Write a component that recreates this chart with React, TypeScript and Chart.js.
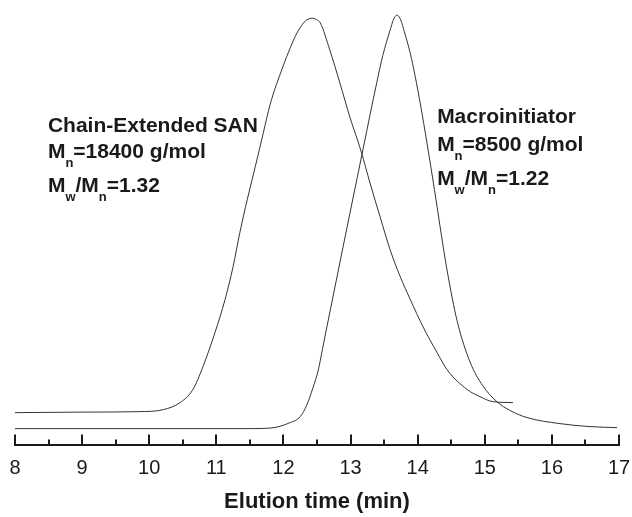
import { useEffect, useRef } from "react";
import { Chart, registerables } from "chart.js";

Chart.register(...registerables);

// Chain-Extended SAN trace (elution time in min, detector signal in a.u.)
const sanTime = [8.0, 8.97, 9.86, 10.21, 10.46, 10.65, 10.8, 10.98, 11.13, 11.25, 11.35, 11.46, 11.58, 11.7, 11.8, 11.99, 12.1, 12.2, 12.31, 12.37, 12.43, 12.49, 12.55, 12.69, 12.84, 12.99, 13.16, 13.29, 13.44, 13.59, 13.74, 13.89, 14.08, 14.29, 14.44, 14.74, 14.93, 15.12, 15.42];
const sanSignal = [7.27, 7.39, 7.5, 7.95, 9.55, 12.5, 17.7, 25.5, 33.0, 40.5, 48.2, 55.7, 63.2, 70.9, 77.3, 85.9, 90.2, 93.6, 96.1, 96.8, 97.0, 96.7, 95.9, 89.8, 82.3, 74.5, 66.6, 59.5, 51.8, 44.3, 38.2, 33.0, 26.8, 20.9, 17.0, 12.5, 10.9, 9.77, 9.55];

// Macroinitiator trace
const macroTime = [8.0, 10.01, 11.5, 11.8, 12.1, 12.25, 12.35, 12.44, 12.52, 12.58, 12.65, 12.71, 12.8, 12.89, 12.99, 13.1, 13.19, 13.29, 13.39, 13.48, 13.59, 13.64, 13.69, 13.75, 13.8, 13.89, 13.96, 14.04, 14.14, 14.25, 14.35, 14.44, 14.59, 14.78, 14.97, 15.18, 15.38, 15.63, 16.12, 16.57, 16.97];
const macroSignal = [3.64, 3.64, 3.64, 3.75, 5.0, 6.36, 9.09, 12.95, 17.0, 21.6, 27.0, 31.5, 38.3, 45.1, 52.6, 60.8, 67.5, 75.0, 82.3, 88.5, 94.3, 96.7, 97.7, 96.5, 94.0, 89.0, 84.0, 77.5, 68.5, 58.0, 48.0, 39.5, 28.0, 18.8, 13.4, 9.77, 7.73, 6.14, 4.77, 4.09, 3.86];

const xTickValues = [8, 9, 10, 11, 12, 13, 14, 15, 16, 17];

const FONT = '"Liberation Sans", Arial, Helvetica, sans-serif';
const INK = "#1a1a1a";

type Seg = { t: string; sub?: boolean };

const sanLabel: Seg[][] = [
  [{ t: "Chain-Extended SAN" }],
  [{ t: "M" }, { t: "n", sub: true }, { t: "=18400 g/mol" }],
  [{ t: "M" }, { t: "w", sub: true }, { t: "/M" }, { t: "n", sub: true }, { t: "=1.32" }],
];
const macroLabel: Seg[][] = [
  [{ t: "Macroinitiator" }],
  [{ t: "M" }, { t: "n", sub: true }, { t: "=8500 g/mol" }],
  [{ t: "M" }, { t: "w", sub: true }, { t: "/M" }, { t: "n", sub: true }, { t: "=1.22" }],
];

const textPlugin = {
  id: "gpcAnnotations",
  afterDraw(chart: any) {
    const { ctx, scales } = chart;
    const xs = scales.x;
    const ys = scales.y;
    // inward ticks on the x axis
    const y0 = chart.chartArea.bottom;
    ctx.save();
    ctx.strokeStyle = INK;
    ctx.lineWidth = 2;
    for (let v = xs.min; v <= xs.max + 1e-9; v += 0.5) {
      const px = Math.round(xs.getPixelForValue(v));
      const major = Math.abs(v - Math.round(v)) < 1e-6;
      ctx.beginPath();
      ctx.moveTo(px, y0);
      ctx.lineTo(px, y0 - (major ? 10 : 5));
      ctx.stroke();
    }
    ctx.restore();

    const drawBlock = (lines: Seg[][], xv: number, yvs: number[]) => {
      ctx.save();
      ctx.fillStyle = INK;
      ctx.textBaseline = "alphabetic";
      ctx.textAlign = "left";
      lines.forEach((line, i) => {
        let x = xs.getPixelForValue(xv);
        const base = ys.getPixelForValue(yvs[i]);
        line.forEach((s) => {
          ctx.font = s.sub ? `bold 13px ${FONT}` : `bold 21px ${FONT}`;
          ctx.fillText(s.t, x, s.sub ? base + 9 : base);
          x += ctx.measureText(s.t).width;
        });
      });
      ctx.restore();
    };
    drawBlock(sanLabel, 8.49, [71.1, 65.2, 57.5]);
    drawBlock(macroLabel, 14.29, [73.2, 66.8, 59.1]);
  },
};

export default function App() {
  const ref = useRef<HTMLCanvasElement | null>(null);
  useEffect(() => {
    if (!ref.current) return;
    const chart = new Chart(ref.current, {
      type: "line",
      data: {
        datasets: [
          {
            label: "Chain-Extended SAN",
            data: sanTime.map((t, i) => ({ x: t, y: sanSignal[i] })),
            borderColor: "#333",
            borderWidth: 1,
            pointRadius: 0,
            cubicInterpolationMode: "monotone",
            fill: false,
          },
          {
            label: "Macroinitiator",
            data: macroTime.map((t, i) => ({ x: t, y: macroSignal[i] })),
            borderColor: "#333",
            borderWidth: 1,
            pointRadius: 0,
            cubicInterpolationMode: "monotone",
            fill: false,
          },
        ],
      },
      options: {
        animation: false,
        responsive: false,
        layout: { padding: { left: 15, right: 13, top: 5, bottom: 2 } },
        plugins: { legend: { display: false }, tooltip: { enabled: false } },
        scales: {
          x: {
            type: "linear",
            min: 8,
            max: 17,
            afterBuildTicks: (axis: any) => {
              axis.ticks = xTickValues.map((v) => ({ value: v }));
            },
            grid: {
              display: true,
              drawOnChartArea: false,
              drawTicks: true,
              tickLength: 12,
              tickColor: "rgba(0,0,0,0)",
            },
            border: { display: true, width: 2, color: INK },
            ticks: {
              padding: 0,
              color: INK,
              font: { size: 20, family: FONT },
              maxRotation: 0,
              autoSkip: false,
            },
            title: {
              display: true,
              text: "Elution time (min)",
              color: INK,
              font: { size: 22, weight: "bold", family: FONT },
              padding: { top: 8, bottom: 0 },
            },
          },
          y: { display: false, min: 0, max: 100 },
        },
      },
      plugins: [textPlugin],
    } as any);
    return () => chart.destroy();
  }, []);
  return (
    <div style={{ position: "absolute", left: 0, top: 0, width: 632, height: 517, background: "#fff" }}>
      <canvas ref={ref} width={632} height={517} style={{ display: "block" }} />
    </div>
  );
}
